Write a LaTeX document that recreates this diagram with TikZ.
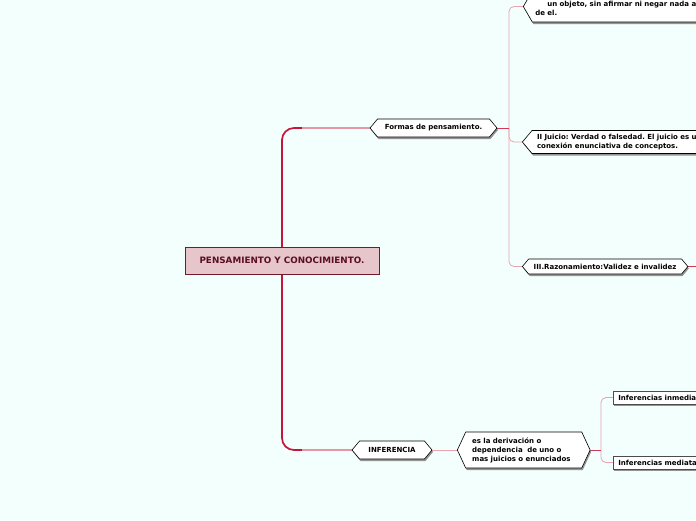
\documentclass[tikz,border=0pt]{standalone}
\usepackage{fontspec}
\setsansfont{DejaVu Sans}
\usepackage{tikz}
\usetikzlibrary{shapes.symbols, shadows}
\definecolor{bgcyan}{RGB}{242, 255, 252}
\definecolor{trunkred}{RGB}{196, 22, 58}
\definecolor{linkpink}{RGB}{234, 164, 176}
\definecolor{rootfill}{RGB}{230, 198, 203}
\definecolor{rootline}{RGB}{110, 28, 45}
\definecolor{roottext}{RGB}{92, 14, 32}
\pgfdeclarelayer{back}
\pgfsetlayers{back,main}
\frenchspacing

\begin{document}
\begin{tikzpicture}[x=1pt, y=-1pt,
  every node/.style={font=\sffamily\bfseries\fontsize{7}{9}\selectfont},
  root/.style={draw=rootline, line width=1pt, fill=rootfill, text=roottext,
    minimum width=194pt, minimum height=27pt,
    font=\sffamily\bfseries\fontsize{8.8}{10}\selectfont},
  topic/.style={shape=signal, signal to=west and east, signal pointer angle=#1,
    draw=black, fill=white, line width=0.6pt, inner xsep=5pt, inner ysep=2pt,
    drop shadow={shadow xshift=1pt, shadow yshift=-2pt, fill=gray!85, opacity=1}},
  topic/.default=100,
  leaf/.style={rectangle, draw=gray!60!black, fill=white, line width=0.6pt,
    minimum height=13pt, inner xsep=5pt, inner ysep=1pt, anchor=west,
    drop shadow={shadow xshift=1pt, shadow yshift=-1.5pt, fill=gray!85, opacity=1}},
  trunk/.style={trunkred, line width=1.7pt, rounded corners=12pt},
  trunkfade/.style={linkpink!90!trunkred, line width=1.2pt},
  twig/.style={linkpink, line width=0.8pt, rounded corners=5pt},
  stub/.style={trunkred!85, line width=1pt}]
  \useasboundingbox (0,0) rectangle (696,520);
  \begin{pgfonlayer}{back}
    \fill[bgcyan] (0,0) rectangle (696,520);
  \end{pgfonlayer}

  % Central topic
  \node[root] (pensamiento) at (282,260.5) {PENSAMIENTO Y CONOCIMIENTO.};

  % Main topics
  \node[topic, minimum width=127pt, minimum height=18pt] (formas) at (433.5,128)
    {Formas de pensamiento.};
  \node[topic, minimum width=80pt, minimum height=18pt] (inferencia) at (392,450)
    {INFERENCIA};

  % Formas de pensamiento
  \node[topic=120, anchor=west, minimum height=31pt, align=left, text width=220pt,
    inner xsep=3pt] (concepto) at (523,6.5)
    {~\\\hspace*{12pt}un objeto, sin afirmar ni negar nada ace\\de el.};
  \node[topic, anchor=west, minimum height=23pt, align=left, text width=200pt]
    (juicio) at (522,142)
    {II Juicio: Verdad o falsedad. El juicio es u\\conexión enunciativa de conceptos.};
  \node[topic, anchor=west, minimum height=15pt] (razonamiento) at (522,266.5)
    {III.Razonamiento:Validez e invalidez};

  % Inferencia
  \node[topic=130, anchor=west, minimum height=36pt, align=left, text width=103pt,
    inner xsep=6.5pt] (derivacion) at (457,450)
    {es la derivación o\\dependencia~ de uno o\\mas juicios o enunciados};
  \node[leaf, text width=100pt] (inmediata) at (613,397.5) {Inferencias inmedia};
  \node[leaf, text width=100pt] (mediata) at (613,462.5) {Inferencias mediata};

  % Connectors
  \coordinate (upper) at (302,128);
  \coordinate (lower) at (302,450);
  \coordinate (formasjoint) at (509,128);
  \coordinate (derivjoint) at (601,450);
  \coordinate (razonout) at (706,266.5);
  \begin{pgfonlayer}{back}
    \draw[trunk] (upper) -| (pensamiento.center) |- (lower);
    \draw[trunkfade] (upper) -- (formas.west);
    \draw[trunkfade] (lower) -- (inferencia.west);
    \draw[twig] (formasjoint) |- (concepto.west);
    \draw[twig] (formasjoint) |- (juicio.west);
    \draw[twig] (formasjoint) |- (razonamiento.west);
    \draw[stub] (formas.east) -- (formasjoint);
    \draw[stub] (razonamiento.east) -- (razonout);
    \draw[twig] (inferencia.east) -- (derivacion.west);
    \draw[twig] (derivjoint) |- (inmediata.west);
    \draw[twig] (derivjoint) |- (mediata.west);
    \draw[stub] (derivacion.east) -- (derivjoint);
  \end{pgfonlayer}
\end{tikzpicture}
\end{document}
